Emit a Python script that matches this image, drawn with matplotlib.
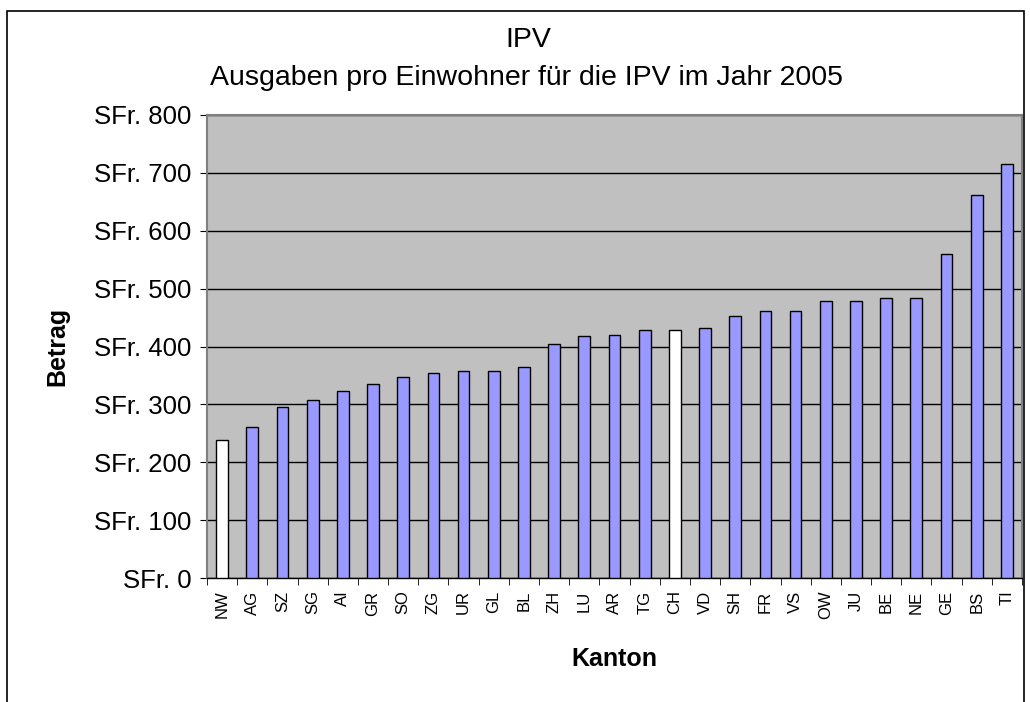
import matplotlib
matplotlib.use("Agg")
import matplotlib.pyplot as plt
from matplotlib.patches import Rectangle
from matplotlib.ticker import FixedLocator, FuncFormatter

plt.rcParams['font.family'] = ['Liberation Sans', 'DejaVu Sans']

cantons = ["NW", "AG", "SZ", "SG", "AI", "GR", "SO", "ZG", "UR", "GL", "BL", "ZH", "LU", "AR",
           "TG", "CH", "VD", "SH", "FR", "VS", "OW", "JU", "BE", "NE", "GE", "BS", "TI"]
values = [238, 261, 296, 307, 323, 336, 348, 355, 357, 357, 365, 404, 419, 420,
          429, 429, 432, 452, 462, 462, 479, 479, 484, 484, 559, 661, 716]
highlight = ["NW", "CH"]
yticks = [0, 100, 200, 300, 400, 500, 600, 700, 800]

W, H = 1030, 702
fig = plt.figure(figsize=(W / 100, H / 100), dpi=100)
fig.patch.set_facecolor('white')

# outer chart border (bottom cut off)
fig.add_artist(Rectangle((7 / W, -0.1), (1024 - 7) / W, (H - 11) / H + 0.1,
                         transform=fig.transFigure, fill=False, edgecolor='black', linewidth=1.2))

left, right, top, bottom = 207, 1022, 115, 578
ax = fig.add_axes([left / W, (H - bottom) / H, (right - left) / W, (bottom - top) / H])
ax.set_facecolor('#C0C0C0')

x = list(range(len(cantons)))
colors = ['white' if c in highlight else '#9999FF' for c in cantons]
ax.bar(x, values, width=0.39, color=colors, edgecolor='black', linewidth=1.0, zorder=3)

ax.set_xlim(-0.5, len(cantons) - 0.5)
ax.set_ylim(0, 800)
ax.yaxis.set_major_locator(FixedLocator(yticks))
ax.yaxis.set_major_formatter(FuncFormatter(lambda v, p: f"SFr. {int(v)}"))
ax.grid(axis='y', color='black', linewidth=1.0, zorder=1)
ax.set_axisbelow(True)

ax.set_xticks(x)
ax.set_xticklabels(cantons, rotation=90, fontsize=12)
ax.set_xticks([i - 0.5 for i in range(len(cantons) + 1)], minor=True)
ax.tick_params(axis='x', which='major', length=0, pad=9)
ax.tick_params(axis='x', which='minor', length=5, direction='out', color='black')
ax.tick_params(axis='y', which='major', length=5, direction='out', labelsize=18.5, pad=6)

for s in ['top', 'right']:
    ax.spines[s].set_color('#808080')
    ax.spines[s].set_linewidth(1.5)
ax.spines['left'].set_color('#808080')
ax.spines['left'].set_linewidth(1.5)
ax.spines['bottom'].set_color('black')
ax.spines['bottom'].set_linewidth(1.0)

ax.set_xlabel("Kanton", fontsize=18, fontweight='bold', labelpad=20)
ax.set_ylabel("Betrag", fontsize=18, fontweight='bold', labelpad=18)

fig.text(528 / W, 1 - 47 / H, "IPV", ha='center', va='baseline', fontsize=20.5)
fig.text(527 / W, 1 - 85 / H, "Ausgaben pro Einwohner für die IPV im Jahr 2005",
         ha='center', va='baseline', fontsize=20.5)

fig.savefig("out.png", dpi=100)
